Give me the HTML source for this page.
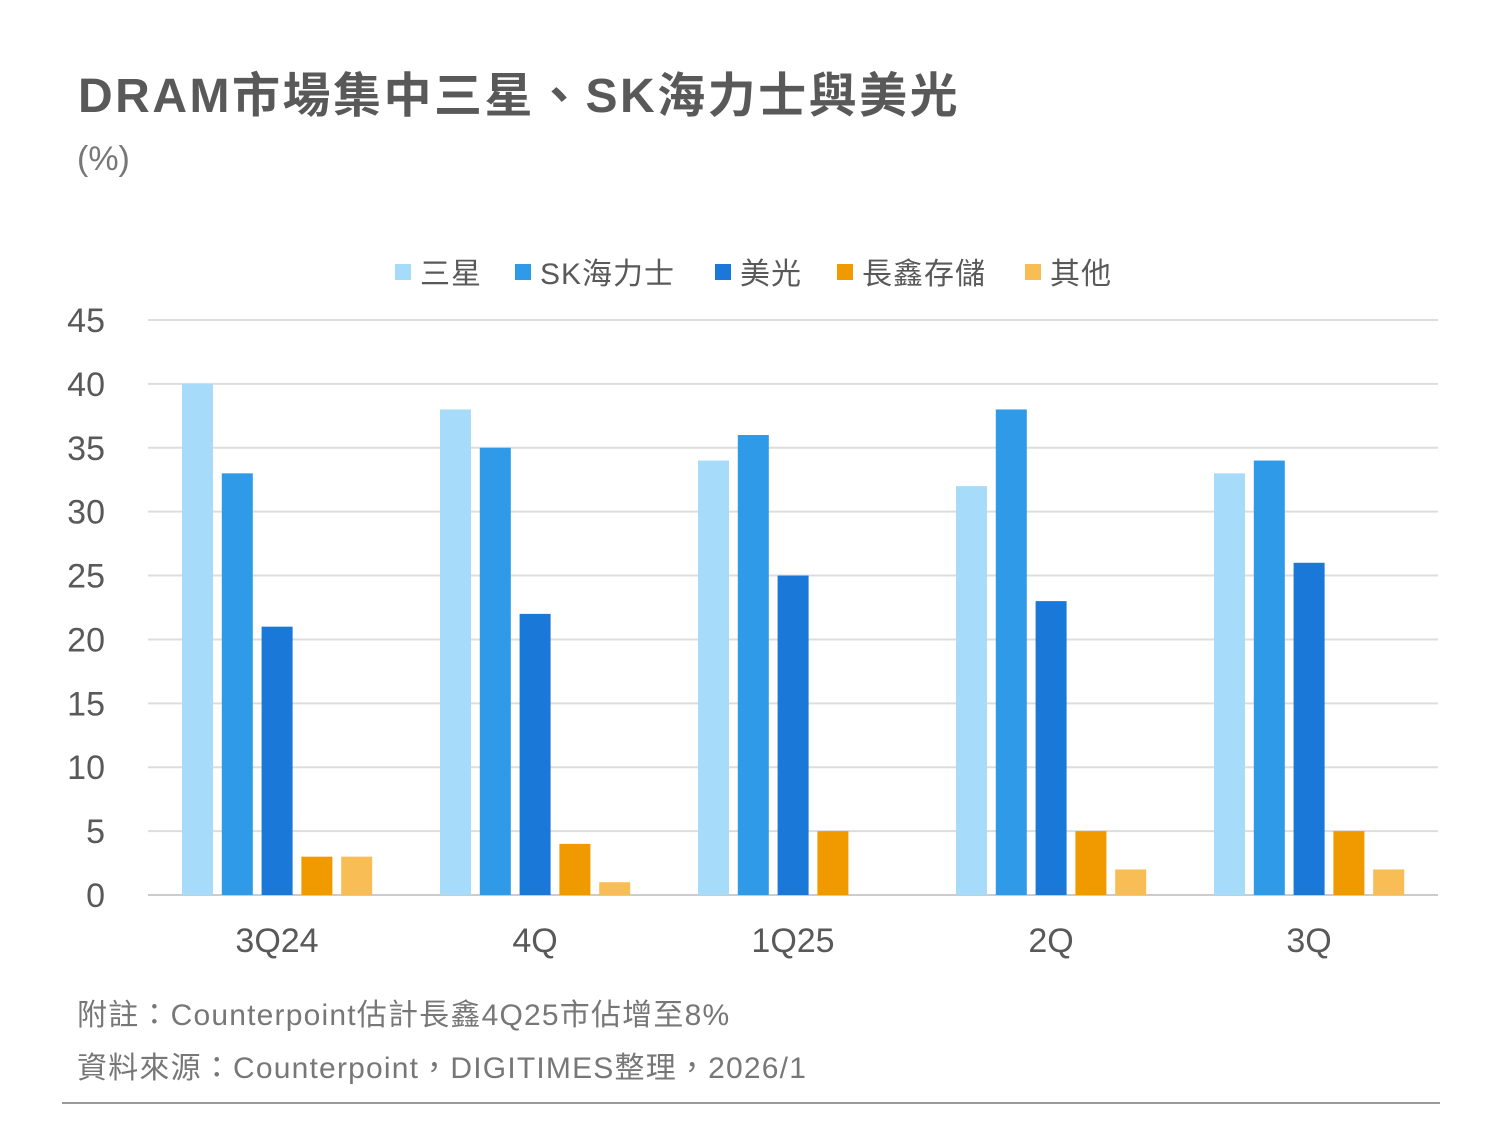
<!DOCTYPE html>
<html><head><meta charset="utf-8">
<style>
body{margin:0;background:#fff;width:1500px;height:1125px;overflow:hidden;font-family:"Liberation Sans","Noto Sans CJK TC",sans-serif;}
.t{position:absolute;white-space:nowrap;}
</style></head><body>
<div class="t" style="left:78px;top:56px;font-size:48px;letter-spacing:2.5px;font-weight:bold;color:#595959;">DRAM市場集中三星、SK海力士與美光</div>
<div class="t" style="left:77px;top:140px;font-size:34px;color:#777;">(%)</div>
<svg id="chart" width="1500" height="1125" style="position:absolute;left:0;top:0;font-family:'Liberation Sans','Noto Sans CJK TC',sans-serif;"></svg>
<div class="t" style="left:77px;top:990px;font-size:30px;letter-spacing:1.2px;color:#777;">附註：Counterpoint估計長鑫4Q25市佔增至8%</div>
<div class="t" style="left:77px;top:1043px;font-size:30px;letter-spacing:1.2px;color:#777;">資料來源：Counterpoint，DIGITIMES整理，2026/1</div>
<div style="position:absolute;left:62px;top:1102px;width:1378px;height:2px;background:#999;"></div>
<script>
const categories=["3Q24","4Q","1Q25","2Q","3Q"];
const seriesNames=["三星","SK海力士","美光","長鑫存儲","其他"];
const samsung=[40,38,34,32,33];
const skhynix=[33,35,36,38,34];
const micron=[21,22,25,23,26];
const cxmt=[3,4,5,5,5];
const others=[3,1,0,2,2];
const yTicks=[0,5,10,15,20,25,30,35,40,45];
const series=[samsung,skhynix,micron,cxmt,others];
const colors=["#a6dcfa","#2f9be8","#1a78d8","#f09a00","#f9bd55"];
const svg=document.getElementById('chart');
const NS="http://www.w3.org/2000/svg";
const x0=148,x1=1438,y0=895,y1=320,yMax=45;
const y=v=>y0-(y0-y1)*v/yMax;
const gw=(x1-x0)/categories.length;
function el(t,a){const e=document.createElementNS(NS,t);for(const k in a)e.setAttribute(k,a[k]);svg.appendChild(e);return e;}
yTicks.forEach(v=>{
 const l=el('line',{x1:x0,x2:x1,y1:y(v),y2:y(v),stroke:v===0?'#ccc':'#ddd','stroke-width':2});
 
 
 const t=el('text',{x:105,y:y(v)+12,'text-anchor':'end','font-size':34,fill:'#595959'});
 t.textContent=v;
 
 
});
categories.forEach((c,i)=>{
 const gx=x0+gw*i;
 series.forEach((s,j)=>{
  const v=s[i];
  const r=el('rect',{x:gx+34+j*39.8,y:y(v),width:31,height:y0-y(v),fill:colors[j]});
  
  
 });
 const t=el('text',{x:gx+gw/2,y:952,'text-anchor':'middle','font-size':34,fill:'#595959'});
 t.textContent=c;
 
 
});
const lx=[395,515,715,837,1025];
seriesNames.forEach((n,j)=>{
 const r=el('rect',{x:lx[j],y:264,width:16,height:16,fill:colors[j]});
 
 
 const t=el('text',{x:lx[j]+25,y:284,'font-size':30,'letter-spacing':1,fill:'#595959'});
 t.textContent=n;
 
 
});
</script>
</body></html>
